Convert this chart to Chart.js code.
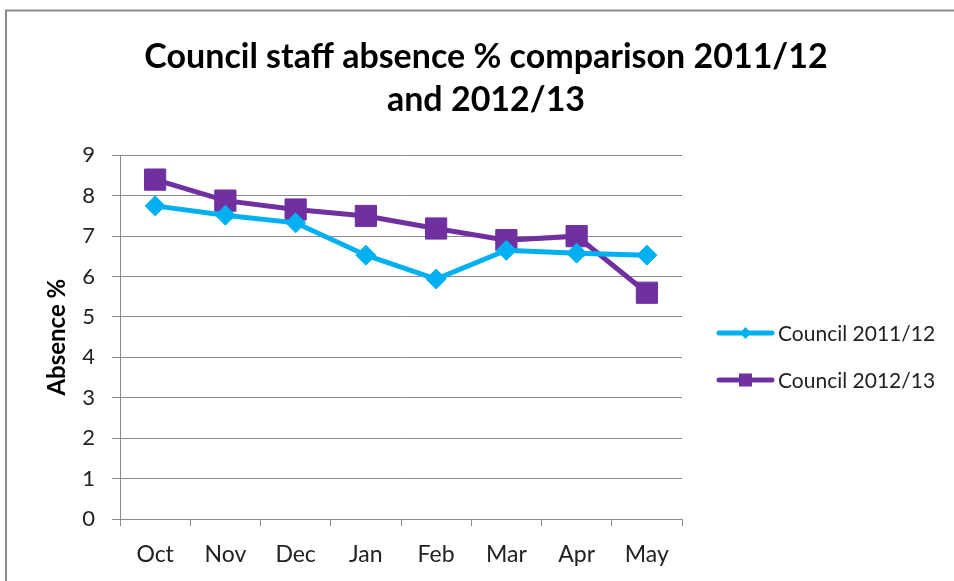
<!DOCTYPE html>
<html>
<head>
<meta charset="utf-8">
<script src="https://cdn.jsdelivr.net/npm/chart.js@4.4.1/dist/chart.umd.min.js"></script>
<style>
  html, body { margin: 0; padding: 0; background: #fff; }
  #wrap { position: absolute; left: 0; top: 0; width: 954px; height: 581px; }
</style>
</head>
<body>
<div id="wrap"><canvas id="absenceChart" width="954" height="581"></canvas></div>
<script>
// monthly absence figures
var months = ['Oct', 'Nov', 'Dec', 'Jan', 'Feb', 'Mar', 'Apr', 'May'];
var council1112 = [7.75, 7.52, 7.33, 6.53, 5.94, 6.65, 6.58, 6.53];
var council1213 = [8.4, 7.88, 7.66, 7.5, 7.19, 6.9, 7.0, 5.6];
var seriesNames = ['Council 2011/12', 'Council 2012/13'];
var yTicks = [0, 1, 2, 3, 4, 5, 6, 7, 8, 9];

var fontFamily = 'Lato, "Open Sans", sans-serif';
var gridGrey = '#8a8a8a';

// grey frame, only the top and left edges fall inside the canvas
var framePlugin = {
  id: 'frame',
  beforeDraw: function(chart) {
    var c = chart.ctx;
    c.save();
    c.fillStyle = '#fff';
    c.fillRect(0, 0, chart.width, chart.height);
    c.strokeStyle = '#8c8c8c';
    c.lineWidth = 2;
    c.strokeRect(6, 10.5, 1000, 1000);
    c.restore();
  }
};

// legend with a line segment and marker, like the office charts
var lineLegend = {
  id: 'lineLegend',
  afterDraw: function(chart) {
    var c = chart.ctx;
    var rows = [333, 380];
    c.save();
    chart.data.datasets.forEach(function(ds, i) {
      var y = rows[i];
      c.strokeStyle = ds.borderColor;
      c.lineWidth = 5;
      c.lineCap = 'round';
      c.beginPath();
      c.moveTo(719, y);
      c.lineTo(772, y);
      c.stroke();
      c.fillStyle = ds.borderColor;
      if (ds.pointStyle === 'rect') {
        c.fillRect(739, y - 6.5, 13, 13);
      } else {
        c.beginPath();
        c.moveTo(745.5, y - 6);
        c.lineTo(751, y);
        c.lineTo(745.5, y + 6);
        c.lineTo(740, y);
        c.closePath();
        c.fill();
      }
      c.fillStyle = '#222';
      c.font = '21px ' + fontFamily;
      c.textBaseline = 'middle';
      c.textAlign = 'left';
      c.fillText(ds.label, 778, y + 1);
    });
    c.restore();
  }
};

var ctx = document.getElementById('absenceChart');
var absenceChart = new Chart(ctx, {
  type: 'line',
  data: {
    labels: months,
    datasets: [{
      label: seriesNames[0],
      data: council1112,
      borderColor: '#00b0f0',
      backgroundColor: '#00b0f0',
      borderWidth: 5,
      pointStyle: 'rectRot',
      pointRadius: 10,
      pointBorderWidth: 1,
      tension: 0
    }, {
      label: seriesNames[1],
      data: council1213,
      borderColor: '#7030a0',
      backgroundColor: '#7030a0',
      borderWidth: 5,
      pointStyle: 'rect',
      pointRadius: 15,
      pointBorderWidth: 1,
      tension: 0
    }]
  },
  options: {
    responsive: false,
    animation: false,
    layout: { padding: { left: 18, right: 0, top: 0, bottom: 0 } },
    plugins: {
      legend: { display: false },
      tooltip: { enabled: false },
      title: {
        display: true,
        text: ['Council staff absence % comparison 2011/12', 'and 2012/13'],
        color: '#000',
        font: { family: fontFamily, size: 34, weight: 'bold', lineHeight: 1.27 },
        padding: { top: 35, bottom: 34 }
      }
    },
    scales: {
      x: {
        offset: true,
        grid: {
          offset: true,
          drawOnChartArea: false,
          drawTicks: true,
          tickLength: 7,
          color: gridGrey
        },
        border: { color: gridGrey, width: 1 },
        ticks: {
          color: '#222',
          font: { family: fontFamily, size: 23 },
          padding: 15,
          maxRotation: 0
        },
        afterFit: function(scale) { scale.height = 62; }
      },
      y: {
        min: 0,
        max: 9,
        afterBuildTicks: function(scale) {
          scale.ticks = yTicks.map(function(v) { return { value: v }; });
        },
        grid: {
          color: gridGrey,
          tickLength: 8,
          drawTicks: true
        },
        border: { color: gridGrey, width: 1 },
        ticks: {
          color: '#222',
          font: { family: fontFamily, size: 22 },
          padding: 17
        },
        title: {
          display: true,
          text: 'Absence %',
          color: '#000',
          font: { family: fontFamily, size: 24, weight: 'bold' },
          padding: { top: 25, bottom: 0 }
        },
        afterFit: function(scale) { scale.width = 102; }
      },
      // empty right axis that keeps room for the legend
      spacer: {
        position: 'right',
        display: true,
        min: 0,
        max: 1,
        grid: { display: false },
        border: { display: false },
        ticks: { display: false },
        afterFit: function(scale) { scale.width = 272; }
      }
    }
  },
  plugins: [framePlugin, lineLegend]
});
</script>
</body>
</html>
